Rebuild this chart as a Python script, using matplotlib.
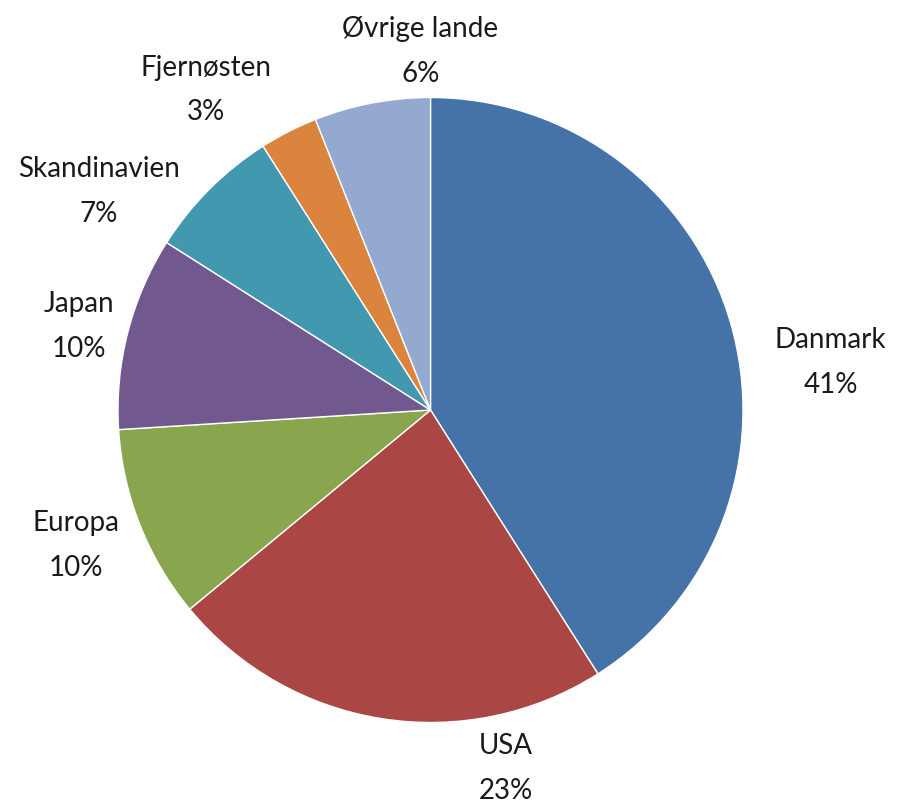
import matplotlib
matplotlib.use("Agg")
import matplotlib.pyplot as plt

categories = ["Danmark", "USA", "Europa", "Japan", "Skandinavien", "Fjernøsten", "Øvrige lande"]
values = [41, 23, 10, 10, 7, 3, 6]
colors = ["#4572A7", "#AA4643", "#89A54E", "#71588F", "#4198AF", "#DB843D", "#93A9CF"]

# label block centres (in pie-radius units, relative to pie centre)
label_pos = [(1.280, 0.153), (0.240, -1.148), (-1.135, -0.435), (-1.126, 0.266),
             (-1.062, 0.700), (-0.719, 1.024), (-0.032, 1.148)]

plt.rcParams['font.family'] = ['Lato', 'DejaVu Sans']

W, H, dpi = 897, 808, 100
fig = plt.figure(figsize=(W / dpi, H / dpi), dpi=dpi)
ax = fig.add_axes([0, 0, 1, 1])

cx, cy, r = 430.5, 410.0, 312.5
ax.pie(values, colors=colors, startangle=90, counterclock=False,
       wedgeprops=dict(edgecolor="white", linewidth=1.0))
ax.set_xlim(-cx / r, (W - cx) / r)
ax.set_ylim(-(H - cy) / r, cy / r)
ax.set_aspect("equal")
ax.axis("off")

for name, v, (lx, ly) in zip(categories, values, label_pos):
    ax.text(lx, ly, f"{name}\n{v}%", ha="center", va="center", multialignment="center",
            fontsize=20, color="#1a1a1a", linespacing=1.9)

fig.savefig("out.png", dpi=dpi, facecolor="white")
